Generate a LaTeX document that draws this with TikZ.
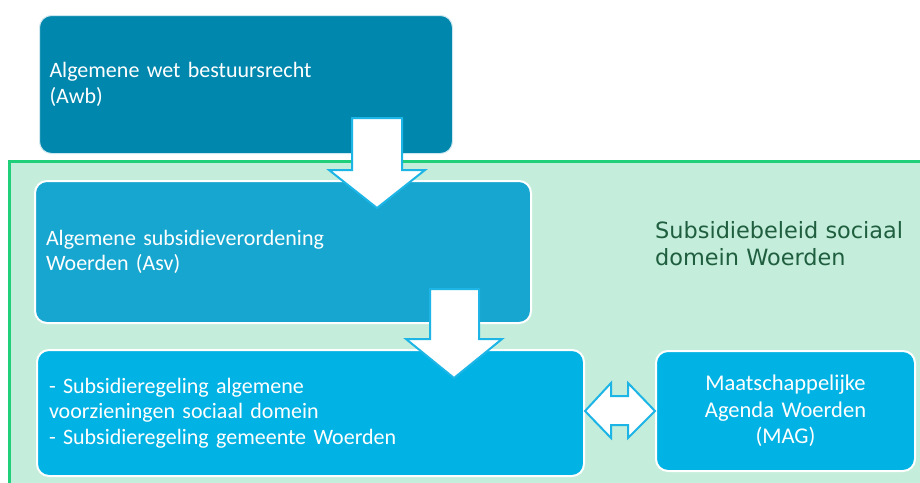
\documentclass[tikz,border=0pt]{standalone}
\usepackage{fontspec}
\setmainfont{Carlito}
\newfontfamily\titlefont{DejaVu Sans}
\definecolor{boxA}{HTML}{0087AD}
\definecolor{boxB}{HTML}{17A6CF}
\definecolor{boxC}{HTML}{00B3E4}
\definecolor{grnfill}{HTML}{C4EEDB}
\definecolor{grnline}{HTML}{20CF7A}
\definecolor{arrline}{HTML}{1DB5E6}
\definecolor{titlecol}{HTML}{1F5E3E}
\begin{document}
\begin{tikzpicture}[x=1pt,y=-1pt,
  box/.style={rectangle, rounded corners=12pt, draw=white, line width=2pt,
    text=white, align=left, inner sep=0pt, anchor=north west,
    font=\fontsize{22}{25.5}\selectfont},
  blockarrow/.style={fill=white, draw=arrline, line width=2pt, line join=miter}]
\useasboundingbox (0,0) rectangle (920,482);
\begin{scope}
\clip (0,0) rectangle (920,482);
\draw[fill=grnfill, draw=grnline, line width=3pt] (9,161) rectangle (940,500);
\end{scope}
% boxes
\node[box, fill=boxA, draw=white!80!boxA, line width=1pt, minimum width=413pt, minimum height=138pt, text width=393pt] (awb) at (39,15) {Algemene wet bestuursrecht\\(Awb)};
\node[box, fill=boxB, minimum width=496pt, minimum height=142pt, text width=474pt] (asv) at (34,180) {Algemene subsidieverordening\\Woerden (Asv)};
\node[box, fill=boxC, minimum width=547pt, minimum height=126pt, text width=523pt] (reg) at (36,349) {- Subsidieregeling algemene\\voorzieningen sociaal domein\\- Subsidieregeling gemeente Woerden};
\node[box, fill=boxC, minimum width=259pt, minimum height=120pt, text width=240pt, align=center, font=\fontsize{22.5}{26.5}\selectfont] (mag) at (655,350) {Maatschappelijke\\Agenda Woerden\\(MAG)};
\node[anchor=west, inner sep=0pt, text=titlecol, align=left, font=\titlefont\fontsize{22.4}{27}\selectfont] (title) at (655,244) {Subsidiebeleid sociaal\\domein Woerden};
% arrow 1 (awb -> asv)
\draw[blockarrow] (352,118) -- (402,118) -- (402,170) -- (425,170) -- (377,208) -- (329,170) -- (352,170) -- cycle;
% arrow 2 (asv -> reg)
\draw[blockarrow] (430,289) -- (479,289) -- (479,339) -- (502,339) -- (454,378) -- (406,339) -- (430,339) -- cycle;
% double arrow (reg <-> mag)
\draw[blockarrow] (reg.east |- 0,411) -- (611,383) -- (611,396) -- (628,396) -- (628,383) -- (mag.west |- 0,411) -- (628,438) -- (628,425) -- (611,425) -- (611,438) -- cycle;
\end{tikzpicture}
\end{document}
